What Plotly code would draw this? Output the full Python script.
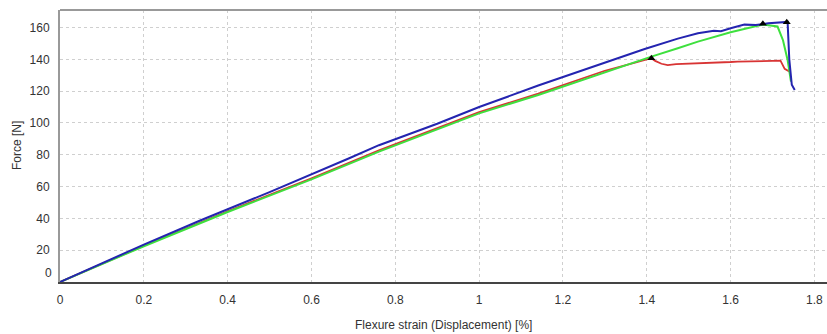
import plotly.graph_objects as go

# ---- data ----
blue_strain = [0, 0.1, 0.2, 0.333, 0.5, 0.69, 0.761, 0.9, 1.0, 1.141, 1.3, 1.395, 1.474, 1.522,
               1.56, 1.577, 1.6, 1.633, 1.66, 1.69, 1.736, 1.740, 1.746, 1.753]
blue_force = [0, 11.8, 23.5, 38.5, 56.5, 77.8, 86.0, 99.5, 110.0, 123.5, 138.0, 146.5, 153.0, 156.4,
              158.0, 157.6, 159.5, 161.8, 161.5, 162.6, 163.5, 140.0, 124.0, 120.7]

green_strain = [0, 0.2, 0.4, 0.6, 0.761, 1.0, 1.141, 1.3, 1.411, 1.474, 1.522, 1.6, 1.665, 1.677,
                1.712, 1.725, 1.736, 1.744]
green_force = [0, 22.5, 44.0, 64.5, 82.0, 106.0, 117.6, 132.0, 141.7, 147.0, 151.1, 157.0, 161.0,
               161.8, 160.6, 152.0, 139.6, 126.0]

red_strain = [0, 0.2, 0.4, 0.6, 0.761, 1.0, 1.141, 1.3, 1.411, 1.42, 1.435, 1.45, 1.47, 1.5, 1.522,
              1.56, 1.6, 1.617, 1.66, 1.7, 1.719, 1.729, 1.74]
red_force = [0, 22.8, 44.5, 65.2, 82.8, 106.8, 118.4, 132.8, 140.7, 139.0, 137.2, 136.4, 137.0, 137.2,
             137.5, 137.9, 138.3, 138.6, 138.6, 139.0, 139.2, 134.0, 132.3]

peak_strain = [1.411, 1.677, 1.734]
peak_force = [140.7, 162.3, 163.3]

x_ticks = [0, 0.2, 0.4, 0.6, 0.8, 1, 1.2, 1.4, 1.6, 1.8]
x_tick_text = ["0", "0.2", "0.4", "0.6", "0.8", "1", "1.2", "1.4", "1.6", "1.8"]
y_ticks = [20, 40, 60, 80, 100, 120, 140, 160]
y_tick_text = ["20", "40", "60", "80", "100", "120", "140", "160"]

x_title = "Flexure strain (Displacement) [%]"
y_title = "Force [N]"

FONT = "Liberation Sans, Arial, sans-serif"
TXT = "#333333"

W, H = 827, 334
ML, MR, MT, MB = 60, 0, 10, 52
plot_w = W - ML - MR
plot_h = H - MT - MB

fig = go.Figure()
fig.add_trace(go.Scatter(x=red_strain, y=red_force, mode="lines",
                         line=dict(color="#d83434", width=1.8), showlegend=False))
fig.add_trace(go.Scatter(x=green_strain, y=green_force, mode="lines",
                         line=dict(color="#3ee03e", width=2), showlegend=False))
fig.add_trace(go.Scatter(x=blue_strain, y=blue_force, mode="lines",
                         line=dict(color="#2424b0", width=2), showlegend=False))
fig.add_trace(go.Scatter(x=peak_strain, y=peak_force, mode="markers",
                         marker=dict(symbol="triangle-up", size=7, color="#000000"),
                         showlegend=False))

# y tick label "0" sits a little above the axis in the reference
fig.add_annotation(x=0, xref="paper", y=5.7, yref="y", text="0", showarrow=False,
                   xanchor="right", xshift=-6, font=dict(family=FONT, size=12, color=TXT))
# axis titles
fig.add_annotation(x=0.5, xref="paper", y=-(325 - 282) / plot_h, yref="paper", text=x_title,
                   showarrow=False, xanchor="center", yanchor="middle",
                   font=dict(family=FONT, size=12, color=TXT))
fig.add_annotation(x=-(60 - 17) / plot_w, xref="paper", y=0.5, yref="paper", text=y_title,
                   textangle=-90, showarrow=False, xanchor="center", yanchor="middle",
                   font=dict(family=FONT, size=12, color=TXT))

fig.update_layout(
    width=W, height=H,
    margin=dict(l=ML, r=MR, t=MT, b=MB),
    paper_bgcolor="white", plot_bgcolor="white",
    font=dict(family=FONT, size=12, color=TXT),
    xaxis=dict(range=[0, 1.83], tickvals=x_ticks, ticktext=x_tick_text, automargin=False,
               showgrid=True, gridcolor="#cfcfcf", griddash="dot", gridwidth=1,
               zeroline=False, showline=True, linecolor="#444444", linewidth=2,
               ticks="", ticklabelstandoff=6),
    yaxis=dict(range=[0, 171], tickvals=y_ticks, ticktext=y_tick_text, automargin=False,
               showgrid=True, gridcolor="#cfcfcf", griddash="dot", gridwidth=1,
               zeroline=False, showline=True, linecolor="#999999", linewidth=2,
               ticks="", ticklabelstandoff=6),
    shapes=[dict(type="line", xref="paper", yref="paper", x0=0, x1=1, y0=1, y1=1,
                 line=dict(color="#999999", width=2))],
)

fig.write_html("out.html", config={"displayModeBar": False},
               post_script="document.body.style.margin='0px';document.body.style.overflow='hidden';")
